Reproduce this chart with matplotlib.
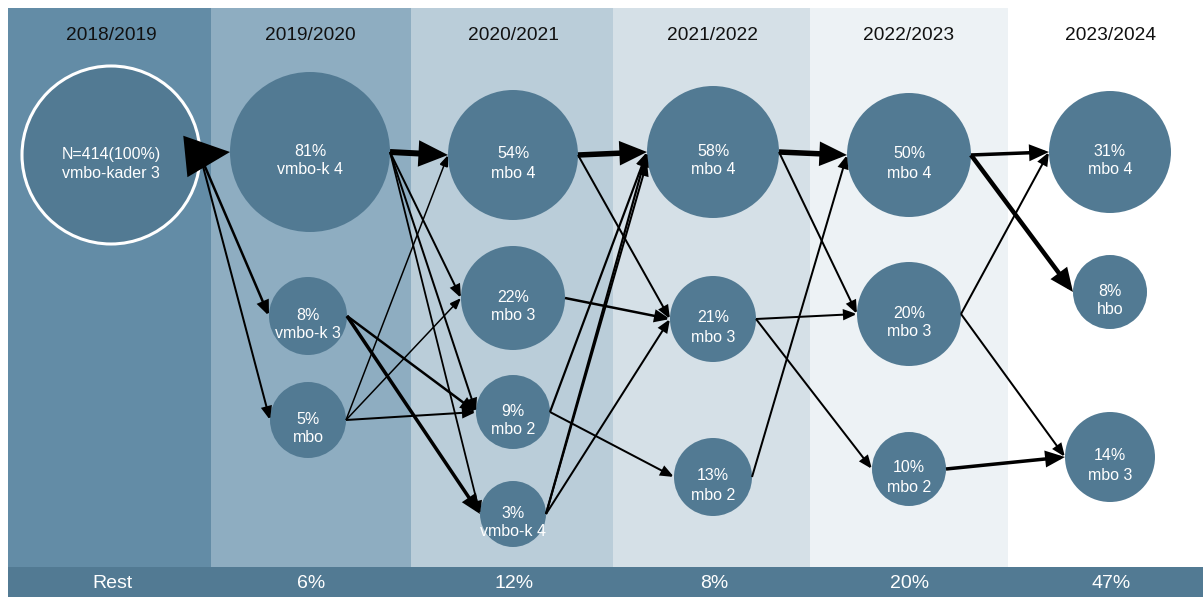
import matplotlib
matplotlib.use("Agg")
import matplotlib.pyplot as plt
from matplotlib.patches import Rectangle, Circle, FancyArrowPatch, ArrowStyle

plt.rcParams['font.family'] = ['Liberation Sans', 'DejaVu Sans']

# school years (columns) and share of pupils that left ("Rest")
years = ["2018/2019", "2019/2020", "2020/2021", "2021/2022", "2022/2023", "2023/2024"]
rest_labels = ["Rest", "6%", "12%", "8%", "20%", "47%"]

# nodes: column, share, track, vertical position and bubble radius (pixels)
node_col = [0, 1, 1, 1, 2, 2, 2, 2, 3, 3, 3, 4, 4, 4, 5, 5, 5]
node_pct = ["N=414(100%)", "81%", "8%", "5%", "54%", "22%", "9%", "3%",
            "58%", "21%", "13%", "50%", "20%", "10%", "31%", "8%", "14%"]
node_name = ["vmbo-kader 3", "vmbo-k 4", "vmbo-k 3", "mbo", "mbo 4", "mbo 3", "mbo 2", "vmbo-k 4",
             "mbo 4", "mbo 3", "mbo 2", "mbo 4", "mbo 3", "mbo 2", "mbo 4", "hbo", "mbo 3"]
node_y = [155, 152, 316, 420, 155, 298, 412, 514, 152, 319, 477, 155, 314, 469, 152, 292, 457]
node_r = [89, 80, 39, 38, 65, 52, 37, 33, 66, 43, 39, 62, 52, 37, 61, 37, 45]

# transitions: source node, target node, line weight (pixels)
edge_src = [0, 0, 0, 1, 1, 1, 1, 2, 2, 3, 3, 3, 4, 4, 5, 6, 6, 7, 7, 7, 8, 8, 9, 9, 10, 11, 11, 12, 12, 13]
edge_dst = [1, 2, 3, 4, 5, 6, 7, 6, 7, 4, 5, 6, 8, 9, 9, 8, 10, 8, 8, 9, 11, 12, 12, 13, 11, 14, 15, 14, 16, 16]
edge_w = [10, 2.5, 2, 6, 2, 2, 1.8, 2.5, 3.5, 1.5, 1.5, 2, 5.5, 2, 2.5, 2.2, 2, 2.2, 2, 2, 5.5, 2, 2, 2, 2,
          3.5, 4.5, 2, 2, 3.5]
edge_end_dy = [0] * 18 + [10] + [0] * 11

# layout
col_x = [111, 310, 513, 713, 909, 1110]
col_edges = [8, 211, 411, 613, 810, 1008, 1203]
col_bg = ["#638ca6", "#8eadc1", "#bacdd9", "#d5e0e7", "#edf2f5", "#ffffff"]
bubble = "#527a93"
W, H = 1203, 597
PT = 0.72  # points per pixel at dpi 100

fig = plt.figure(figsize=(W / 100, H / 100), dpi=100)
ax = fig.add_axes([0, 0, 1, 1])
ax.set_xlim(0, W)
ax.set_ylim(H, 0)
ax.axis("off")

for i, year in enumerate(years):
    x0, x1 = col_edges[i], col_edges[i + 1]
    ax.add_patch(Rectangle((x0, 8), x1 - x0, 559, facecolor=col_bg[i], edgecolor="none", zorder=0))
    ax.text(col_x[i], 36, year, ha="center", va="center", fontsize=13.8, color="#111111", zorder=5)

ax.add_patch(Rectangle((8, 567), W - 8, 30, facecolor=bubble, edgecolor="none", zorder=1))
for i, lab in enumerate(rest_labels):
    ax.text(col_x[i] + 1, 583, lab, ha="center", va="center", fontsize=14, color="white", zorder=5)

node_x = []
for i in range(len(node_col)):
    x = col_x[node_col[i]]
    if node_col[i] == 1 and i > 1:
        x -= 2
    node_x.append(x)
    edge = "white" if i == 0 else "none"
    ax.add_patch(Circle((x, node_y[i]), node_r[i], facecolor=bubble, edgecolor=edge,
                        linewidth=2.2, zorder=2))
    ax.text(x, node_y[i] - 1, node_pct[i], ha="center", va="center", fontsize=11.5,
            color="white", zorder=6)
    ax.text(x, node_y[i] + 18, node_name[i], ha="center", va="center", fontsize=11.5,
            color="white", zorder=6)

for s, d, w, dy in zip(edge_src, edge_dst, edge_w, edge_end_dy):
    start = (node_x[s] + node_r[s], node_y[s])
    end = (node_x[d] - node_r[d], node_y[d] + dy)
    hl = (6 + 2.2 * w) * PT
    hw = (2 + 1.1 * w) * PT
    style = ArrowStyle("-|>", head_length=hl, head_width=hw)
    ax.add_patch(FancyArrowPatch(start, end, arrowstyle=style, mutation_scale=1,
                                 shrinkA=0, shrinkB=0, color="black", joinstyle="miter",
                                 capstyle="butt", linewidth=w * PT, zorder=4))

plt.savefig("out.png", dpi=100)
